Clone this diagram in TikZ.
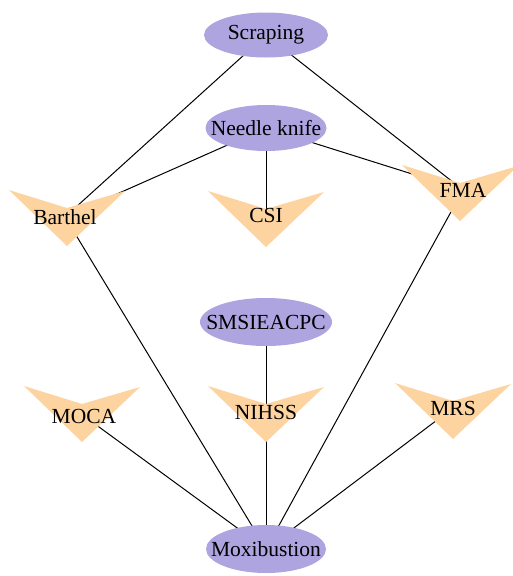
\documentclass[tikz,border=0pt]{standalone}
\usepackage{fontspec}
\setmainfont{Liberation Serif}
\pgfdeclarelayer{bg}
\pgfsetlayers{bg,main}
\definecolor{ellfill}{RGB}{173,164,224}
\definecolor{veefill}{RGB}{253,211,160}
\tikzset{
  lbl/.style={inner sep=0pt, font=\fontsize{21.5}{23}\selectfont},
  conn/.style={draw=black, line width=1pt},
  ellbg/.style={fill=ellfill},
  vee/.pic={\fill[veefill] (-58,0) -- (0,18) -- (58,1) -- (0,56) -- cycle;}
}
\begin{document}
\begin{tikzpicture}[x=1pt,y=-1pt]
\useasboundingbox (0,0) rectangle (513,576);
% ellipses
\fill[ellbg] (266,35) ellipse [x radius=62, y radius=22.5];
\node[lbl] (scr) at (266,35) {Scraping};
\fill[ellbg] (266,128) ellipse [x radius=60.5, y radius=23];
\node[lbl] (nk) at (266,128) {Needle knife};
\fill[ellbg] (266,322) ellipse [x radius=66, y radius=24];
\node[lbl] (sms) at (266,322) {SMSIEACPC};
\fill[ellbg] (266,549) ellipse [x radius=60, y radius=24];
\node[lbl] (mox) at (266,549) {Moxibustion};
% vee shapes
\pic at (67,190) {vee};
\node[lbl] (bar) at (65,217) {Barthel};
\pic at (266,191) {vee};
\node[lbl] (csi) at (266,215) {CSI};
\pic at (460,165) {vee};
\node[lbl] (fma) at (463,190) {FMA};
\pic at (82,386) {vee};
\node[lbl] (moca) at (84,416) {MOCA};
\pic at (266,386) {vee};
\node[lbl] (nih) at (266,412) {NIHSS};
\pic at (453,383) {vee};
\node[lbl] (mrs) at (453,408) {MRS};
% connectors
\begin{pgfonlayer}{bg}
\draw[conn] (scr.center) -- (bar.center);
\draw[conn] (scr.center) -- (fma.center);
\draw[conn] (nk.center) -- (bar.center);
\draw[conn] (nk.center) -- (csi.center);
\draw[conn] (nk.center) -- (fma.center);
\draw[conn] (bar.center) -- (mox.center);
\draw[conn] (fma.center) -- (mox.center);
\draw[conn] (sms.center) -- (nih.center);
\draw[conn] (moca.center) -- (mox.center);
\draw[conn] (nih.center) -- (mox.center);
\draw[conn] (mrs.center) -- (mox.center);
\end{pgfonlayer}
\end{tikzpicture}
\end{document}
